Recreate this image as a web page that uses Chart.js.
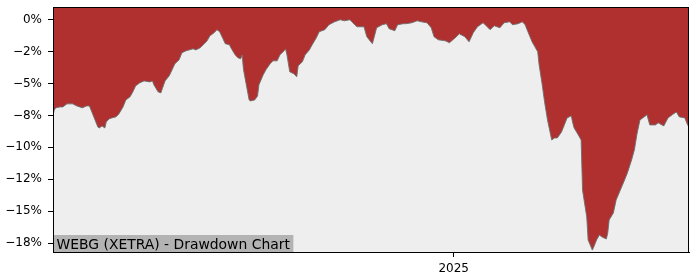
<!DOCTYPE html>
<html>
<head>
<meta charset="utf-8">
<script src="https://cdn.jsdelivr.net/npm/chart.js@4.4.1/dist/chart.umd.min.js"></script>
<style>
  html, body { margin: 0; padding: 0; background: #fff; }
  #wrap { width: 700px; height: 280px; }
</style>
</head>
<body>
<div id="wrap"><canvas id="drawdown-chart" width="700" height="280"></canvas></div>
<script>
// days relative to 2025-01-01
const days = [
  -286, -285, -284, -281, -279, -276, -272, -269, -267, -265, -262, -260, -258, -256, -254, -253,
  -251, -249, -248, -246, -244, -241, -239, -236, -234, -231, -229, -227, -224, -221, -217, -215,
  -214, -211, -209, -208, -206, -203, -201, -199, -196, -194, -191, -186, -184, -181, -178, -176,
  -174, -171, -169, -167, -165, -163, -160, -159, -156, -154, -152, -151, -150, -148, -146, -145,
  -142, -140, -139, -136, -134, -131, -129, -126, -124, -121, -120, -119, -117, -114, -112, -111,
  -108, -106, -103, -101, -98, -96, -92, -89, -85, -81, -78, -74, -72, -69, -64, -62,
  -58, -55, -51, -48, -46, -42, -40, -36, -34, -30, -26, -23, -19, -16, -14, -11,
  -6, -3, 2, 4, 8, 11, 14, 17, 21, 24, 26, 29, 33, 36, 40, 42,
  46, 49, 51, 53, 56, 58, 60, 61, 63, 65, 67, 70, 72, 74, 77, 79,
  81, 84, 85, 86, 89, 91, 92, 95, 96, 99, 100, 102, 104, 106, 109, 110,
  111, 114, 116, 119, 122, 124, 127, 129, 131, 133, 135, 138, 140, 144, 146, 150,
  153, 156, 159, 161, 165, 167, 168
]

// drawdown in percent
const drawdown = [
  -7.45, -7.06, -6.90, -6.83, -6.83, -6.59, -6.59, -6.75, -6.83, -6.90, -6.75, -6.75, -7.30, -7.85, -8.40, -8.48,
  -8.32, -8.48, -8.01, -7.77, -7.69, -7.61, -7.38, -6.83, -6.28, -6.04, -5.65, -5.18, -4.94, -4.79, -4.87, -4.79,
  -5.10, -5.65, -5.73, -5.41, -4.79, -4.39, -3.92, -3.45, -3.14, -2.59, -2.43, -2.28, -2.36, -2.20, -1.88, -1.65,
  -1.26, -1.02, -0.78, -0.94, -1.41, -1.88, -1.96, -2.20, -2.75, -2.98, -3.06, -2.75, -3.92, -5.10, -6.28, -6.36,
  -6.28, -5.97, -5.10, -4.32, -3.92, -3.45, -3.22, -3.22, -2.75, -2.43, -2.28, -2.75, -4.08, -4.24, -4.47, -3.61,
  -3.30, -2.75, -2.36, -1.96, -1.41, -0.94, -0.78, -0.39, -0.16, 0.00, -0.08, 0.00, -0.24, -0.55, -0.55, -1.33,
  -1.88, -0.63, -0.39, -0.31, -0.71, -0.86, -0.39, -0.31, -0.31, -0.24, -0.08, -0.16, -0.24, -0.63, -1.33, -1.57,
  -1.65, -1.80, -1.33, -1.10, -1.33, -1.73, -1.02, -0.55, -0.24, -0.55, -0.78, -0.47, -0.63, -0.24, -0.16, -0.39,
  -0.31, -0.16, -0.39, -0.94, -1.73, -2.12, -2.51, -3.53, -4.94, -6.51, -7.85, -9.42, -9.26, -9.26, -8.79, -8.24,
  -7.69, -7.53, -8.08, -8.48, -9.03, -9.42, -13.34, -15.46, -17.26, -18.05, -17.81, -17.26, -16.87, -17.03, -17.18, -16.71,
  -15.69, -15.14, -14.12, -13.34, -12.56, -12.01, -10.99, -10.20, -8.87, -7.85, -7.69, -7.45, -8.24, -8.24, -8.08, -8.32,
  -7.69, -7.45, -7.22, -7.61, -7.69, -8.24, -8.40
]

const yTickValues = [0, -2.5, -5, -7.5, -10, -12.5, -15, -17.5]
const yTickLabels = ["0%", "\u22122%", "\u22125%", "\u22128%", "\u221210%", "\u221212%", "\u221215%", "\u221218%"]
const xTickValues = [0]
const xTickLabels = ["2025"]
const title = "WEBG (XETRA) - Drawdown Chart"

const points = days.map((d, i) => ({ x: d, y: drawdown[i] }))

const frame = {
  id: "frame",
  beforeDraw(chart) {
    const { ctx, chartArea: a } = chart
    ctx.save()
    ctx.fillStyle = "#ffffff"
    ctx.fillRect(0, 0, chart.width, chart.height)
    ctx.fillStyle = "#eeeeee"
    ctx.fillRect(a.left, a.top, a.right - a.left, a.bottom - a.top)
    ctx.restore()
  },
  afterDraw(chart) {
    const { ctx, chartArea: a } = chart
    ctx.save()
    // label box
    ctx.font = "13.9px 'DejaVu Sans'"
    const w = ctx.measureText(title).width
    ctx.fillStyle = "#b3b3b3"
    ctx.fillRect(a.left, a.bottom - 17, w + 7, 17)
    ctx.fillStyle = "#000"
    ctx.textBaseline = "alphabetic"
    ctx.fillText(title, a.left + 3.5, a.bottom - 3.5)
    // box
    ctx.strokeStyle = "#000"
    ctx.lineWidth = 1
    ctx.strokeRect(a.left + 0.5, a.top + 0.5, a.right - a.left - 1, a.bottom - a.top)
    ctx.restore()
  }
}

new Chart(document.getElementById("drawdown-chart"), {
  type: "line",
  data: {
    datasets: [
      {
        data: points,
        fill: "end",
        backgroundColor: "#b03030",
        borderColor: "rgba(110,110,110,0.9)",
        borderWidth: 1,
        pointRadius: 0,
        tension: 0
      }
    ]
  },
  options: {
    responsive: false,
    animation: false,
    layout: { padding: { top: 7, right: 11, left: 0, bottom: 0 } },
    plugins: { legend: { display: false }, tooltip: { enabled: false } },
    scales: {
      x: {
        type: "linear",
        min: days[0],
        max: days[days.length - 1],
        afterBuildTicks: (s) => { s.ticks = xTickValues.map((v) => ({ value: v })) },
        afterFit: (s) => { s.height = 28; s.paddingLeft = 0; s.paddingRight = 0 },
        ticks: {
          callback: (v, i) => xTickLabels[i],
          color: "#000",
          font: { family: "DejaVu Sans", size: 12 },
          padding: 5,
          maxRotation: 0
        },
        grid: { drawOnChartArea: false, drawTicks: true, tickLength: 5, color: "#000" },
        border: { display: true, color: "#000", width: 1 }
      },
      y: {
        min: -18.2,
        max: 1.0,
        afterBuildTicks: (s) => { s.ticks = yTickValues.map((v) => ({ value: v })) },
        afterFit: (s) => { s.width = 53; s.paddingTop = 0; s.paddingBottom = 0 },
        ticks: {
          callback: (v, i) => yTickLabels[i],
          color: "#000",
          font: { family: "DejaVu Sans", size: 12 },
          padding: 6
        },
        grid: { drawOnChartArea: false, drawTicks: true, tickLength: 5, color: "#000" },
        border: { display: true, color: "#000", width: 1 }
      }
    }
  },
  plugins: [frame]
})
</script>
</body>
</html>
